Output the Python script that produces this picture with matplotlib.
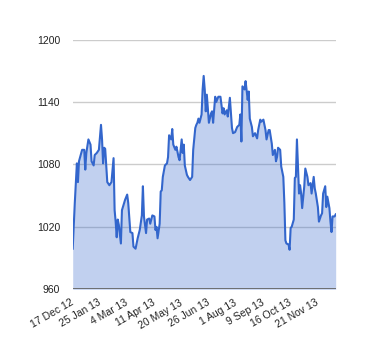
import matplotlib
matplotlib.use("Agg")
import matplotlib.pyplot as plt

# -----------------------------------------------------------------------
# Data (trading-day index, closing value)
# -----------------------------------------------------------------------

day_idx = [0, 2, 4, 5, 6, 9, 11, 12, 13, 15, 17, 18, 20, 21, 23, 25, 27, 28, 29,
           30, 31, 32, 33, 35, 37, 39, 40, 41, 42, 43, 44, 46, 47, 50, 52, 53,
           55, 57, 58, 60, 62, 64, 66, 67, 68, 70, 71, 73, 74, 76, 78, 79, 80,
           81, 83, 84, 85, 86, 88, 90, 91, 92, 94, 95, 96, 98, 99, 101, 102,
           104, 105, 106, 107, 109, 110, 112, 114, 115, 117, 118, 119, 120,
           121, 123, 124, 125, 126, 127, 128, 130, 132, 133, 134, 136, 137,
           139, 141, 143, 144, 145, 147, 148, 150, 152, 153, 155, 157, 159,
           160, 161, 162, 164, 165, 167, 168, 169, 171, 172, 174, 176, 177,
           179, 180, 182, 184, 185, 187, 188, 190, 191, 193, 194, 195, 196,
           198, 199, 201, 202, 203, 204, 206, 207, 208, 209, 211, 212, 213,
           214, 216, 217, 218, 219, 221, 222, 224, 225, 227, 228, 230, 231,
           232, 234, 235, 237, 238, 239, 241, 242, 243, 245, 246, 247, 248,
           250, 251]

price = [999, 1043, 1081, 1063, 1083, 1094, 1094, 1075, 1091, 1104, 1099, 1083,
         1079, 1089, 1091, 1094, 1118, 1104, 1081, 1096, 1095, 1079, 1063, 1060,
         1063, 1086, 1036, 1025, 1010, 1027, 1022, 1004, 1036, 1046, 1051, 1043,
         1015, 1014, 1001, 999, 1009, 1017, 1031, 1059, 1030, 1014, 1027, 1028,
         1023, 1031, 1030, 1017, 1020, 1009, 1023, 1054, 1055, 1068, 1079, 1081,
         1087, 1108, 1104, 1114, 1099, 1094, 1097, 1087, 1084, 1104, 1091, 1099,
         1079, 1070, 1068, 1065, 1068, 1094, 1115, 1118, 1120, 1124, 1120, 1128,
         1152, 1165, 1152, 1131, 1147, 1120, 1129, 1131, 1120, 1145, 1140, 1145,
         1145, 1129, 1134, 1128, 1132, 1126, 1144, 1115, 1110, 1111, 1116, 1118,
         1128, 1102, 1155, 1152, 1160, 1142, 1150, 1124, 1116, 1107, 1110, 1105,
         1113, 1123, 1121, 1123, 1113, 1104, 1113, 1113, 1100, 1089, 1094, 1083,
         1087, 1096, 1094, 1078, 1068, 1043, 1007, 1004, 1003, 998, 1019, 1020,
         1027, 1067, 1068, 1104, 1052, 1060, 1052, 1038, 1059, 1076, 1068, 1060,
         1062, 1052, 1068, 1057, 1052, 1039, 1025, 1031, 1033, 1052, 1059, 1039,
         1049, 1038, 1025, 1015, 1030, 1030, 1032]

tick_labels = ["17 Dec 12", "25 Jan 13", "4 Mar 13", "11 Apr 13", "20 May 13",
               "26 Jun 13", "1 Aug 13", "9 Sep 13", "16 Oct 13", "21 Nov 13"]
y_ticks = [960, 1020, 1080, 1140, 1200]

LINE = "#3366CC"

plt.rcParams["font.family"] = ["Liberation Sans", "DejaVu Sans"]

fig = plt.figure(figsize=(3.8, 3.6), dpi=100)
ax = fig.add_axes([72.7 / 380, 70.7 / 360, 263 / 380, 249.8 / 360])

ax.fill_between(day_idx, price, 960, color=LINE, alpha=0.3, linewidth=0, zorder=2)
ax.plot(day_idx, price, color=LINE, linewidth=1.5, zorder=3)

ax.set_xlim(0, 251)
ax.set_ylim(960, 1200)

ax.set_yticks(y_ticks)
ax.set_yticklabels([str(v) for v in y_ticks])
for v in y_ticks[1:]:
    ax.axhline(v, color="#CCCCCC", linewidth=1, zorder=1)
ax.axhline(960, color="#666666", linewidth=1.3, zorder=4)

ax.set_xticks(list(range(0, 252, 26)))
ax.set_xticklabels(tick_labels, rotation=30, ha="right", va="center",
                   rotation_mode="anchor")

ax.tick_params(axis="both", length=0, labelsize=7.5, colors="#222222")
ax.tick_params(axis="y", pad=9)
ax.tick_params(axis="x", pad=9)

for s in ax.spines.values():
    s.set_visible(False)

fig.savefig("out.png", dpi=100)
